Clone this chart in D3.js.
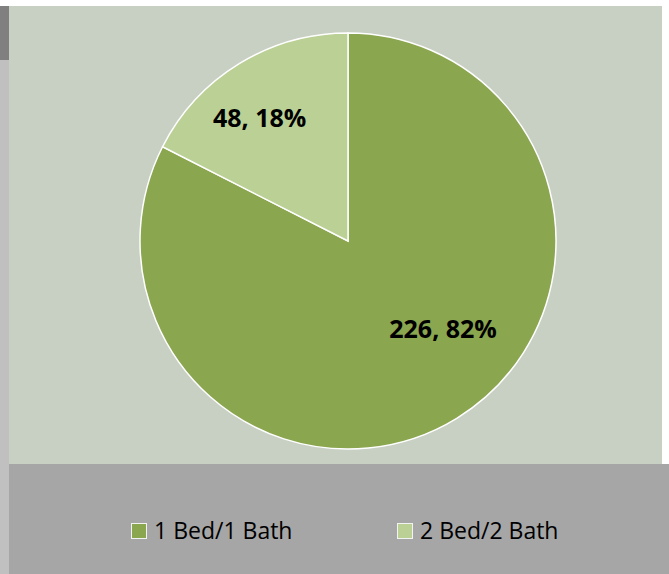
<!DOCTYPE html>
<html>
<head>
<meta charset="utf-8">
<script src="https://cdn.jsdelivr.net/npm/d3@7"></script>
<style>
  html, body { margin: 0; padding: 0; background: #ffffff; }
  svg { display: block; }
</style>
</head>
<body>
<div id="chart"></div>
<script>
// data
const categories = ["1 Bed/1 Bath", "2 Bed/2 Bath"];
const counts = [226, 48];
const colors = ["#8aa64f", "#bbd095"];

const width = 669;
const height = 574;

const svg = d3.select("#chart")
    .append("svg")
    .attr("width", width)
    .attr("height", height);

// frame pieces
svg.append("rect").attr("x", 0).attr("y", 6).attr("width", 9).attr("height", height - 6).attr("fill", "#c0c0c0");
svg.append("rect").attr("x", 0).attr("y", 6).attr("width", 9).attr("height", 54).attr("fill", "#808080");
svg.append("rect").attr("x", 9).attr("y", 6).attr("width", 653).attr("height", 458).attr("fill", "#c8cfc3");
svg.append("rect").attr("x", 9).attr("y", 464).attr("width", width - 9).attr("height", height - 464).attr("fill", "#a6a6a6");

const cx = 348, cy = 241, radius = 208;

const total = d3.sum(counts);
const pie = d3.pie().sort(null).value(d => d);
const arcs = pie(counts);

const arc = d3.arc().innerRadius(0).outerRadius(radius);

const g = svg.append("g").attr("transform", `translate(${cx},${cy})`);

g.selectAll("path")
    .data(arcs)
    .enter().append("path")
    .attr("d", arc)
    .attr("fill", (d, i) => colors[i])
    .attr("stroke", "#ffffff")
    .attr("stroke-width", 1.5);

// label placement (excel best fit) - radius and angle nudge per slice
const labelPlace = [
    { r: 130, turn: -0.27 },
    { r: 151, turn: -0.075 }
];

g.selectAll("text.lbl")
    .data(arcs)
    .enter().append("text")
    .attr("class", "lbl")
    .attr("transform", function (d, i) {
        const a = (d.startAngle + d.endAngle) / 2 + labelPlace[i].turn;
        const x = Math.sin(a) * labelPlace[i].r;
        const y = -Math.cos(a) * labelPlace[i].r;
        return `translate(${x},${y})`;
    })
    .attr("text-anchor", "middle")
    .attr("dy", "0.34em")
    .style("font-family", "'Open Sans', sans-serif")
    .style("font-weight", "bold")
    .style("font-size", "25px")
    .attr("fill", "#000000")
    .text(d => d.data + ", " + Math.round(d.data / total * 100) + "%");

// legend
const legendX = d3.scalePoint().domain(categories).range([131, 397]);

const lg = svg.selectAll("g.legend")
    .data(categories)
    .enter().append("g")
    .attr("class", "legend")
    .attr("transform", d => `translate(${legendX(d)},523)`);

lg.append("rect")
    .attr("x", 0.5).attr("y", 0.5)
    .attr("width", 15).attr("height", 15)
    .attr("fill", (d, i) => colors[i])
    .attr("stroke", "#f2f2f2")
    .attr("stroke-width", 1);

lg.append("text")
    .attr("x", 23)
    .attr("y", 15.5)
    .style("font-family", "'Open Sans', sans-serif")
    .style("font-size", "23px")
    .attr("fill", "#000000")
    .text(d => d);
</script>
</body>
</html>
